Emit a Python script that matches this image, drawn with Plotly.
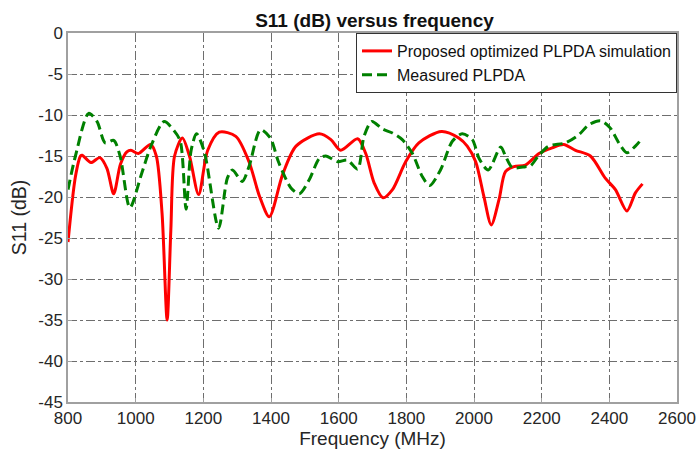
import plotly.graph_objects as go

sim_freq = [800, 822, 837, 842, 868, 894, 915, 935, 955, 974, 986, 1008, 1044, 1061, 1078, 1093, 1104, 1115, 1138, 1159, 1186, 1213, 1247, 1296, 1335, 1366, 1395, 1434, 1474, 1543, 1577, 1606, 1656, 1680, 1705, 1731, 1759, 1798, 1837, 1904, 1955, 1980, 2005, 2029, 2051, 2074, 2093, 2118, 2152, 2192, 2231, 2265, 2300, 2344, 2388, 2418, 2452, 2477, 2498]
sim_db = [-25.5, -17.5, -15.0, -14.9, -15.8, -15.2, -16.5, -19.6, -16.0, -14.5, -14.3, -14.7, -13.6, -15.0, -22.0, -35.0, -24.0, -15.0, -12.8, -15.0, -19.7, -14.3, -12.1, -12.6, -15.7, -19.9, -22.4, -17.3, -13.8, -12.3, -13.0, -14.3, -12.9, -14.7, -18.3, -20.1, -19.1, -15.7, -13.4, -12.0, -12.8, -13.8, -15.7, -19.9, -23.4, -20.3, -16.9, -16.3, -16.1, -14.7, -14.0, -13.6, -14.3, -15.0, -17.7, -19.1, -21.7, -19.5, -18.4]

meas_freq = [800, 822, 861, 886, 910, 935, 954, 983, 1018, 1047, 1084, 1115, 1132, 1149, 1164, 1180, 1203, 1245, 1271, 1286, 1315, 1335, 1369, 1398, 1422, 1459, 1484, 1513, 1543, 1562, 1597, 1626, 1656, 1675, 1698, 1729, 1759, 1788, 1818, 1847, 1869, 1901, 1936, 1965, 1995, 2015, 2042, 2079, 2093, 2113, 2152, 2167, 2192, 2221, 2270, 2310, 2339, 2374, 2403, 2428, 2452, 2477, 2498]
meas_db = [-19.1, -15.0, -9.8, -10.8, -13.4, -13.1, -15.0, -21.3, -17.1, -13.6, -10.8, -12.0, -13.2, -21.5, -14.3, -12.3, -14.5, -23.8, -17.7, -16.7, -18.1, -16.3, -11.8, -12.8, -15.7, -18.9, -19.6, -17.9, -15.3, -15.0, -15.7, -15.5, -16.6, -12.6, -10.8, -11.7, -12.2, -13.0, -14.7, -17.5, -18.6, -16.7, -13.2, -12.3, -13.0, -15.3, -16.7, -13.9, -15.0, -16.4, -16.3, -16.2, -14.9, -13.8, -13.4, -12.4, -11.2, -10.7, -11.6, -13.4, -14.6, -13.8, -12.8]

x_ticks = list(range(800, 2601, 200))
y_ticks = list(range(-45, 1, 5))
y_tick_text = [str(v) for v in y_ticks]

FONT = "Liberation Sans, Arial"

fig = go.Figure()
fig.add_trace(go.Scatter(x=sim_freq, y=sim_db, mode="lines",
                         name="Proposed optimized PLPDA simulation",
                         line=dict(color="#FF0000", width=3, shape="spline", smoothing=0.8)))
fig.add_trace(go.Scatter(x=meas_freq, y=meas_db, mode="lines",
                         name="Measured PLPDA",
                         line=dict(color="#008000", width=3, dash="10px,5px", shape="spline", smoothing=0.8)))

axis_common = dict(showgrid=True, gridcolor="#6e6e6e", griddash="dashdot", gridwidth=1,
                   showline=True, linecolor="#a0a0a0", linewidth=1.5, mirror=True,
                   ticks="inside", ticklen=4, tickcolor="#a0a0a0", zeroline=False,
                   automargin=False,
                   tickfont=dict(family=FONT, size=17, color="#262626"))

fig.update_layout(
    width=700, height=452,
    margin=dict(l=68, r=23, t=33, b=50),
    paper_bgcolor="white", plot_bgcolor="white",
    title=dict(text="<b>S11 (dB) versus frequency</b>", x=0.535, xanchor="center",
               y=0.954, yanchor="middle",
               font=dict(family=FONT, size=19, color="#111111")),
    legend=dict(x=1, y=1, xanchor="right", yanchor="top", bgcolor="white",
                bordercolor="#333333", borderwidth=1,
                font=dict(family=FONT, size=16, color="#111111"),
                tracegroupgap=0, itemwidth=30),
    showlegend=True,
)
fig.update_xaxes(range=[800, 2600], tickvals=x_ticks, **axis_common,
                 title=dict(text="Frequency (MHz)", standoff=2,
                            font=dict(family=FONT, size=19, color="#262626")))
fig.update_yaxes(range=[-45, 0], tickvals=y_ticks, ticktext=y_tick_text, **axis_common,
                 title=dict(text="S11 (dB)", standoff=6,
                            font=dict(family=FONT, size=19.5, color="#262626")))

fig.write_html("out.html", config={"displayModeBar": False},
               post_script="document.body.style.margin='0';document.body.style.overflow='hidden';")
